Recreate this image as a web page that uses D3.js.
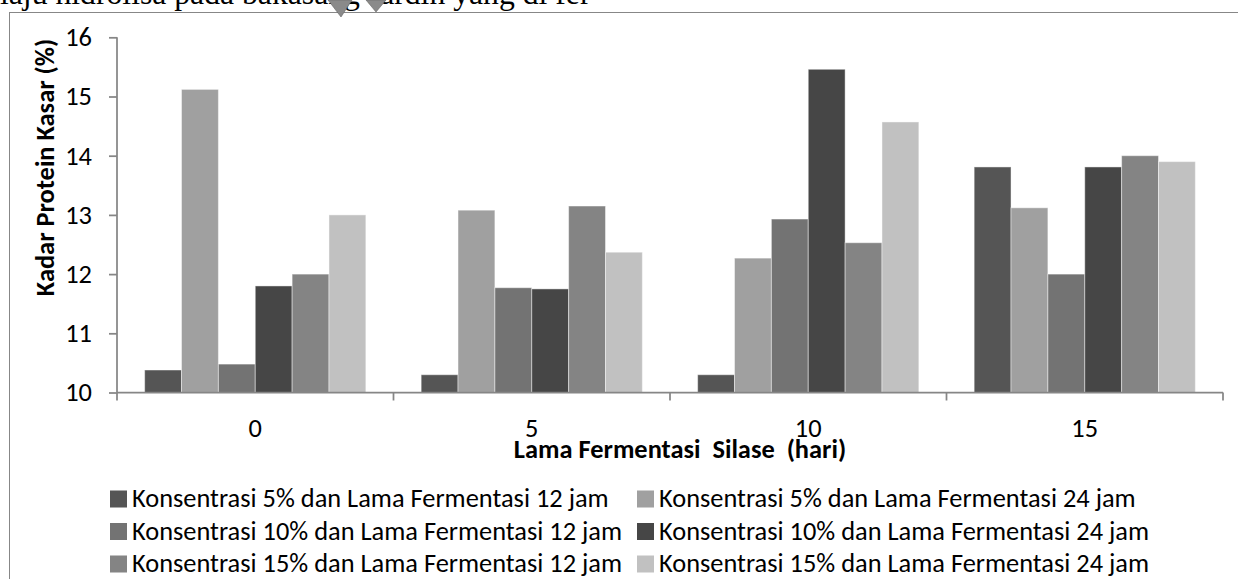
<!DOCTYPE html>
<html><head><meta charset="utf-8">
<script src="https://cdn.jsdelivr.net/npm/d3@7"></script>
<style>body{margin:0;background:#fff;overflow:hidden}</style></head>
<body><svg id="c" width="1238" height="579"></svg>
<script>
const categories = ["0", "5", "10", "15"];
const seriesNames = [
  "Konsentrasi 5% dan Lama Fermentasi 12 jam",
  "Konsentrasi 5% dan Lama Fermentasi 24 jam",
  "Konsentrasi 10% dan Lama Fermentasi 12 jam",
  "Konsentrasi 10% dan Lama Fermentasi 24 jam",
  "Konsentrasi 15% dan Lama Fermentasi 12 jam",
  "Konsentrasi 15% dan Lama Fermentasi 24 jam"
];
const k5_12  = [10.38, 10.30, 10.30, 13.81];
const k5_24  = [15.12, 13.08, 12.27, 13.12];
const k10_12 = [10.48, 11.77, 12.93, 12.00];
const k10_24 = [11.80, 11.75, 15.46, 13.81];
const k15_12 = [12.00, 13.15, 12.53, 14.00];
const k15_24 = [13.00, 12.37, 14.57, 13.90];
const yTicks = [10, 11, 12, 13, 14, 15, 16];
const xTitle = "Lama Fermentasi  Silase  (hari)";
const yTitle = "Kadar Protein Kasar (%)";
const docText = "laju hidrolisa pada bakasang sardin yang di fer";

(function () {
const series = [k5_12, k5_24, k10_12, k10_24, k15_12, k15_24];
const colors = ["#555555", "#a0a0a0", "#737373", "#464646", "#848484", "#c1c1c1"];

const svg = d3.select("#c");
const FONT = "Carlito, Calibri, Lato, sans-serif";
const FS = 26.4;

// document text line above the chart (clipped at the top)
svg.append("text").attr("x", 0).attr("y", 4)
  .attr("font-family", "'Liberation Serif', 'Times New Roman', serif")
  .attr("font-size", 31.7).attr("fill", "#000").text(docText);

// chart frame
svg.append("rect").attr("x", 9.5).attr("y", 12.5).attr("width", 1240).attr("height", 600)
  .attr("fill", "#fff").attr("stroke", "#878787").attr("stroke-width", 1);

// anchor marks over the text
const mk = svg.append("g").attr("fill", "#8a8a8a").attr("stroke", "#666").attr("stroke-width", 0.6);
mk.append("path").attr("d", "M328,0 L352,0 L341,17 Z");
mk.append("path").attr("d", "M366,0 L386,0 L376,12 Z");

const pL = 117, pR = 1223, pT = 37.3, pB = 392.5;
const x0 = d3.scaleBand().domain(categories).range([pL, pR]).paddingInner(0).paddingOuter(0);
const x1 = d3.scaleBand().domain(d3.range(series.length)).range([0, x0.bandwidth()]).paddingInner(0).paddingOuter(0.75);
const y = d3.scaleLinear().domain([10, 16]).range([pB, pT]);

series.forEach((vals, si) => {
  svg.append("g").selectAll("rect").data(vals).join("rect")
    .attr("x", (d, i) => x0(categories[i]) + x1(si))
    .attr("y", d => y(d))
    .attr("width", x1.bandwidth())
    .attr("height", d => y(10) - y(d))
    .attr("fill", colors[si])
    .attr("stroke", "rgba(255,255,255,0.45)").attr("stroke-width", 1);
});

const axisColor = "#868686";
const ya = svg.append("g").attr("transform", `translate(${pL},0)`)
  .call(d3.axisLeft(y).tickValues(yTicks).tickSize(8).tickPadding(17).tickFormat(d3.format("d")));
ya.select(".domain").attr("stroke", axisColor).attr("stroke-width", 1.75).attr("d", `M0,${pT}V${pB}`);
ya.selectAll(".tick line").attr("stroke", axisColor).attr("stroke-width", 1.75);
ya.selectAll(".tick text").attr("font-family", FONT).attr("font-size", FS).attr("fill", "#000");

const xa = svg.append("g").attr("transform", `translate(0,${pB})`);
xa.append("line").attr("x1", pL).attr("x2", pR).attr("stroke", axisColor).attr("stroke-width", 1.75);
const bounds = categories.map(c => x0(c)).concat([x0(categories[categories.length - 1]) + x0.bandwidth()]);
xa.selectAll("line.tk").data(bounds).join("line").attr("class", "tk")
  .attr("x1", d => d).attr("x2", d => d).attr("y1", 0).attr("y2", 8)
  .attr("stroke", axisColor).attr("stroke-width", 1.75);
xa.selectAll("text").data(categories).join("text")
  .attr("x", d => x0(d) + x0.bandwidth() / 2).attr("y", 44.2)
  .attr("text-anchor", "middle").attr("font-family", FONT).attr("font-size", FS).text(d => d);

svg.append("text").attr("x", 680).attr("y", 458.3).attr("text-anchor", "middle")
  .attr("font-family", FONT).attr("font-size", FS).attr("font-weight", "bold")
  .style("white-space", "pre").text(xTitle);
svg.append("text").attr("transform", "translate(54,167.5) rotate(-90)").attr("text-anchor", "middle")
  .attr("font-family", FONT).attr("font-size", FS).attr("font-weight", "bold").text(yTitle);

const colX = [110, 637];
const rowY = [507, 539.5, 572];
const lg = svg.append("g");
seriesNames.forEach((name, i) => {
  const cx = colX[i % 2], ry = rowY[Math.floor(i / 2)];
  lg.append("rect").attr("x", cx).attr("y", ry - 16.5).attr("width", 17).attr("height", 17).attr("fill", colors[i]);
  lg.append("text").attr("x", cx + 22).attr("y", ry).attr("font-family", FONT).attr("font-size", FS).text(name);
});
})();
</script>
</body></html>
